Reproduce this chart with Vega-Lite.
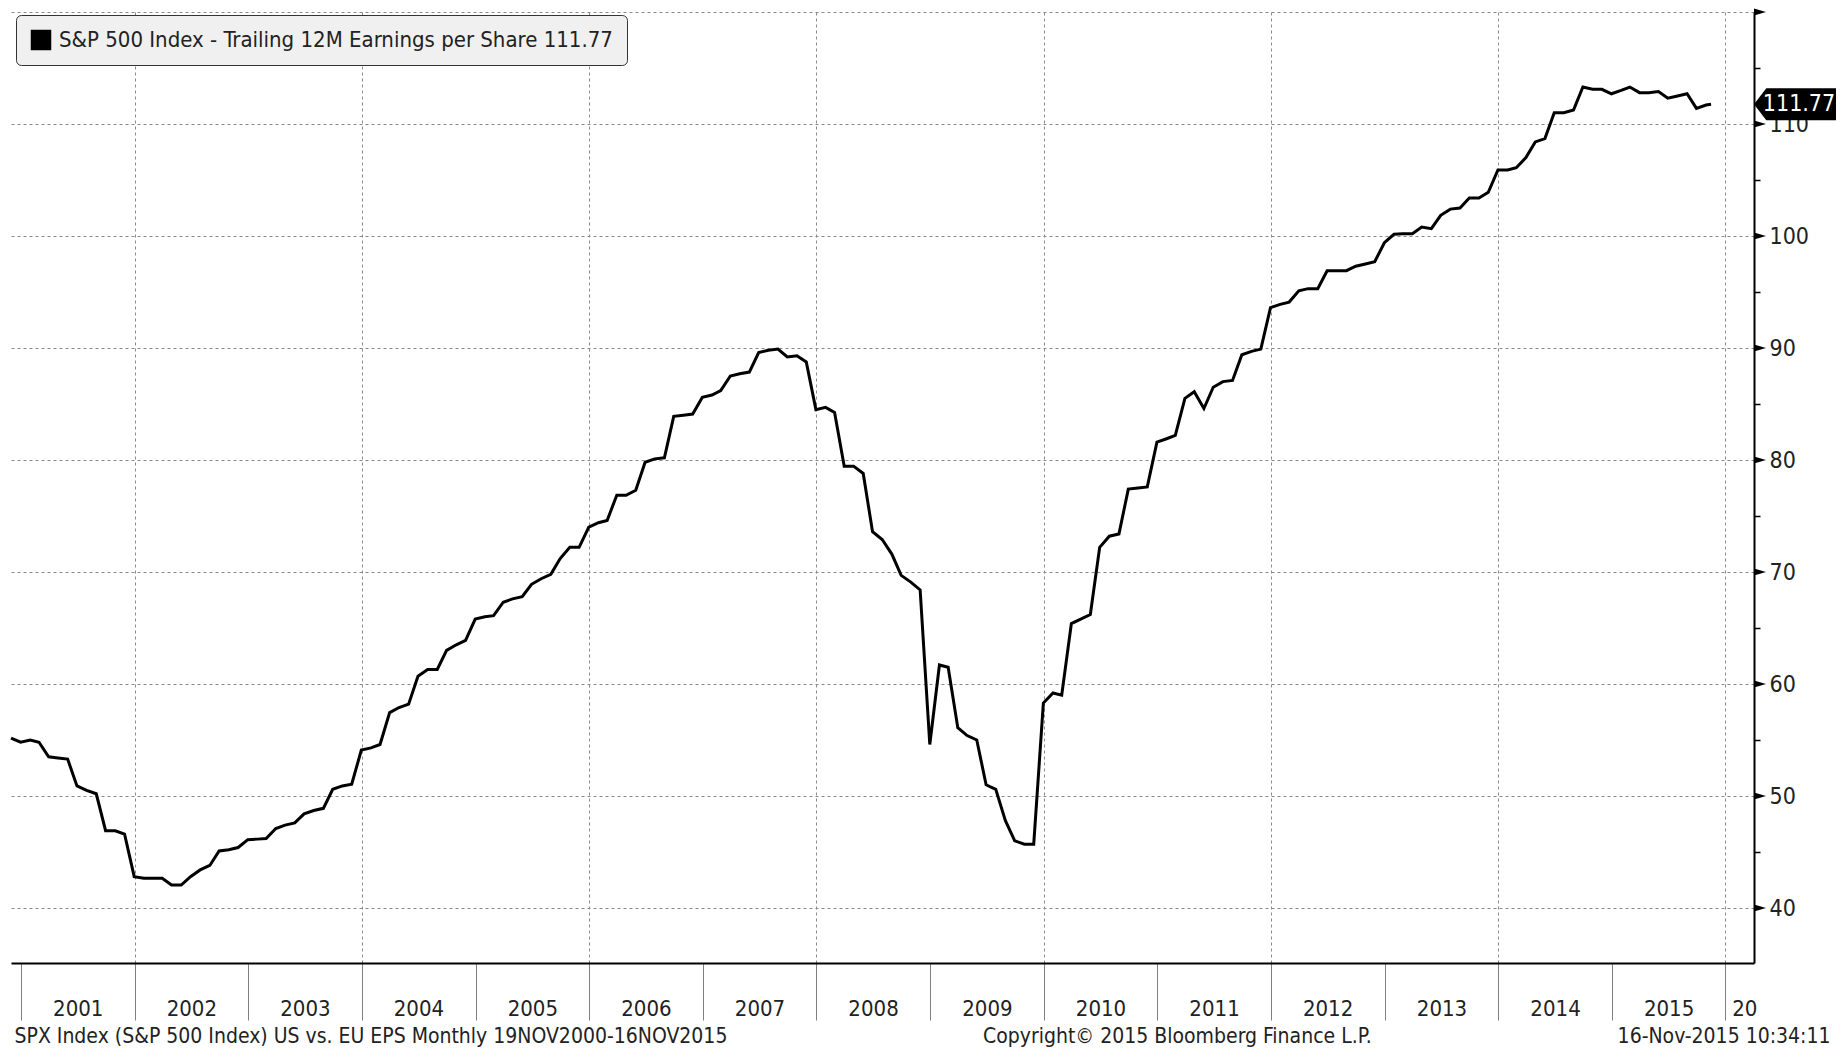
{
  "$schema": "https://vega.github.io/schema/vega-lite/v6.json",
  "width": 1743,
  "height": 951,
  "autosize": {"type": "none"},
  "padding": {"left": 11, "top": 12, "right": 89, "bottom": 87},
  "background": "white",
  "config": {
    "view": {"stroke": null},
    "font": "Liberation Sans Narrow, DejaVu Sans Condensed, sans-serif"
  },
  "title": {
    "text": "Copyright\u00a9 2015 Bloomberg Finance L.P.",
    "orient": "bottom",
    "anchor": "start",
    "frame": "group",
    "dx": 972,
    "dy": -20,
    "offset": 0,
    "fontSize": 21,
    "fontWeight": "normal",
    "color": "#222222",
    "font": "Liberation Sans Narrow, DejaVu Sans Condensed, sans-serif"
  },
  "datasets": {
    "eps": [
      {"d": "2000-11-30", "v": 55.17}, {"d": "2000-12-31", "v": 54.8},
      {"d": "2001-01-31", "v": 55.0}, {"d": "2001-02-28", "v": 54.8}, {"d": "2001-03-31", "v": 53.5}, {"d": "2001-04-30", "v": 53.4}, {"d": "2001-05-31", "v": 53.3}, {"d": "2001-06-30", "v": 50.9}, {"d": "2001-07-31", "v": 50.5}, {"d": "2001-08-31", "v": 50.2}, {"d": "2001-09-30", "v": 46.9}, {"d": "2001-10-31", "v": 46.9}, {"d": "2001-11-30", "v": 46.6}, {"d": "2001-12-31", "v": 42.8},
      {"d": "2002-01-31", "v": 42.65}, {"d": "2002-02-28", "v": 42.65}, {"d": "2002-03-31", "v": 42.65}, {"d": "2002-04-30", "v": 42.05}, {"d": "2002-05-31", "v": 42.05}, {"d": "2002-06-30", "v": 42.8}, {"d": "2002-07-31", "v": 43.4}, {"d": "2002-08-31", "v": 43.8}, {"d": "2002-09-30", "v": 45.1}, {"d": "2002-10-31", "v": 45.2}, {"d": "2002-11-30", "v": 45.4}, {"d": "2002-12-31", "v": 46.1},
      {"d": "2003-01-31", "v": 46.15}, {"d": "2003-02-28", "v": 46.2}, {"d": "2003-03-31", "v": 47.1}, {"d": "2003-04-30", "v": 47.4}, {"d": "2003-05-31", "v": 47.6}, {"d": "2003-06-30", "v": 48.4}, {"d": "2003-07-31", "v": 48.7}, {"d": "2003-08-31", "v": 48.9}, {"d": "2003-09-30", "v": 50.6}, {"d": "2003-10-31", "v": 50.9}, {"d": "2003-11-30", "v": 51.05}, {"d": "2003-12-31", "v": 54.1},
      {"d": "2004-01-31", "v": 54.3}, {"d": "2004-02-29", "v": 54.6}, {"d": "2004-03-31", "v": 57.45}, {"d": "2004-04-30", "v": 57.9}, {"d": "2004-05-31", "v": 58.2}, {"d": "2004-06-30", "v": 60.7}, {"d": "2004-07-31", "v": 61.3}, {"d": "2004-08-31", "v": 61.3}, {"d": "2004-09-30", "v": 63.0}, {"d": "2004-10-31", "v": 63.5}, {"d": "2004-11-30", "v": 63.9}, {"d": "2004-12-31", "v": 65.8},
      {"d": "2005-01-31", "v": 66.0}, {"d": "2005-02-28", "v": 66.1}, {"d": "2005-03-31", "v": 67.3}, {"d": "2005-04-30", "v": 67.6}, {"d": "2005-05-31", "v": 67.8}, {"d": "2005-06-30", "v": 68.9}, {"d": "2005-07-31", "v": 69.4}, {"d": "2005-08-31", "v": 69.8}, {"d": "2005-09-30", "v": 71.2}, {"d": "2005-10-31", "v": 72.2}, {"d": "2005-11-30", "v": 72.2}, {"d": "2005-12-31", "v": 74.0},
      {"d": "2006-01-31", "v": 74.4}, {"d": "2006-02-28", "v": 74.6}, {"d": "2006-03-31", "v": 76.85}, {"d": "2006-04-30", "v": 76.85}, {"d": "2006-05-31", "v": 77.3}, {"d": "2006-06-30", "v": 79.8}, {"d": "2006-07-31", "v": 80.1}, {"d": "2006-08-31", "v": 80.2}, {"d": "2006-09-30", "v": 83.9}, {"d": "2006-10-31", "v": 84.0}, {"d": "2006-11-30", "v": 84.1}, {"d": "2006-12-31", "v": 85.6},
      {"d": "2007-01-31", "v": 85.8}, {"d": "2007-02-28", "v": 86.2}, {"d": "2007-03-31", "v": 87.5}, {"d": "2007-04-30", "v": 87.7}, {"d": "2007-05-31", "v": 87.85}, {"d": "2007-06-30", "v": 89.6}, {"d": "2007-07-31", "v": 89.8}, {"d": "2007-08-31", "v": 89.9}, {"d": "2007-09-30", "v": 89.2}, {"d": "2007-10-31", "v": 89.3}, {"d": "2007-11-30", "v": 88.75}, {"d": "2007-12-31", "v": 84.5},
      {"d": "2008-01-31", "v": 84.7}, {"d": "2008-02-29", "v": 84.25}, {"d": "2008-03-31", "v": 79.45}, {"d": "2008-04-30", "v": 79.45}, {"d": "2008-05-31", "v": 78.8}, {"d": "2008-06-30", "v": 73.6}, {"d": "2008-07-31", "v": 72.9}, {"d": "2008-08-31", "v": 71.6}, {"d": "2008-09-30", "v": 69.7}, {"d": "2008-10-31", "v": 69.1}, {"d": "2008-11-30", "v": 68.4}, {"d": "2008-12-31", "v": 54.6},
      {"d": "2009-01-31", "v": 61.7}, {"d": "2009-02-28", "v": 61.5}, {"d": "2009-03-31", "v": 56.1}, {"d": "2009-04-30", "v": 55.4}, {"d": "2009-05-31", "v": 55.0}, {"d": "2009-06-30", "v": 51.0}, {"d": "2009-07-31", "v": 50.6}, {"d": "2009-08-31", "v": 47.8}, {"d": "2009-09-30", "v": 46.0}, {"d": "2009-10-31", "v": 45.7}, {"d": "2009-11-30", "v": 45.7}, {"d": "2009-12-31", "v": 58.3},
      {"d": "2010-01-31", "v": 59.2}, {"d": "2010-02-28", "v": 59.0}, {"d": "2010-03-31", "v": 65.4}, {"d": "2010-04-30", "v": 65.8}, {"d": "2010-05-31", "v": 66.2}, {"d": "2010-06-30", "v": 72.2}, {"d": "2010-07-31", "v": 73.2}, {"d": "2010-08-31", "v": 73.4}, {"d": "2010-09-30", "v": 77.4}, {"d": "2010-10-31", "v": 77.5}, {"d": "2010-11-30", "v": 77.6}, {"d": "2010-12-31", "v": 81.6},
      {"d": "2011-01-31", "v": 81.9}, {"d": "2011-02-28", "v": 82.2}, {"d": "2011-03-31", "v": 85.5}, {"d": "2011-04-30", "v": 86.1}, {"d": "2011-05-31", "v": 84.6}, {"d": "2011-06-30", "v": 86.5}, {"d": "2011-07-31", "v": 87.0}, {"d": "2011-08-31", "v": 87.1}, {"d": "2011-09-30", "v": 89.4}, {"d": "2011-10-31", "v": 89.7}, {"d": "2011-11-30", "v": 89.9}, {"d": "2011-12-31", "v": 93.6},
      {"d": "2012-01-31", "v": 93.9}, {"d": "2012-02-29", "v": 94.1}, {"d": "2012-03-31", "v": 95.1}, {"d": "2012-04-30", "v": 95.3}, {"d": "2012-05-31", "v": 95.3}, {"d": "2012-06-30", "v": 96.9}, {"d": "2012-07-31", "v": 96.9}, {"d": "2012-08-31", "v": 96.9}, {"d": "2012-09-30", "v": 97.3}, {"d": "2012-10-31", "v": 97.5}, {"d": "2012-11-30", "v": 97.7}, {"d": "2012-12-31", "v": 99.4},
      {"d": "2013-01-31", "v": 100.15}, {"d": "2013-02-28", "v": 100.2}, {"d": "2013-03-31", "v": 100.2}, {"d": "2013-04-30", "v": 100.8}, {"d": "2013-05-31", "v": 100.65}, {"d": "2013-06-30", "v": 101.85}, {"d": "2013-07-31", "v": 102.4}, {"d": "2013-08-31", "v": 102.5}, {"d": "2013-09-30", "v": 103.4}, {"d": "2013-10-31", "v": 103.4}, {"d": "2013-11-30", "v": 103.9}, {"d": "2013-12-31", "v": 105.9},
      {"d": "2014-01-31", "v": 105.9}, {"d": "2014-02-28", "v": 106.1}, {"d": "2014-03-31", "v": 107.0}, {"d": "2014-04-30", "v": 108.4}, {"d": "2014-05-31", "v": 108.7}, {"d": "2014-06-30", "v": 111.0}, {"d": "2014-07-31", "v": 111.0}, {"d": "2014-08-31", "v": 111.25}, {"d": "2014-09-30", "v": 113.3}, {"d": "2014-10-31", "v": 113.1}, {"d": "2014-11-30", "v": 113.1}, {"d": "2014-12-31", "v": 112.7},
      {"d": "2015-01-31", "v": 113.0}, {"d": "2015-02-28", "v": 113.3}, {"d": "2015-03-31", "v": 112.8}, {"d": "2015-04-30", "v": 112.8}, {"d": "2015-05-31", "v": 112.9}, {"d": "2015-06-30", "v": 112.3}, {"d": "2015-07-31", "v": 112.5}, {"d": "2015-08-31", "v": 112.7}, {"d": "2015-09-30", "v": 111.4}, {"d": "2015-10-31", "v": 111.7}, {"d": "2015-11-16", "v": 111.77}
    ],
    "marks": [{"m": 40}, {"m": 50}, {"m": 60}, {"m": 70}, {"m": 80}, {"m": 90}, {"m": 100}, {"m": 110}, {"m": 120}],
    "last": [{"v": 111.77, "label": "111.77"}]
  },
  "layer": [
    {
      "data": {"name": "eps"},
      "mark": {"type": "line", "color": "black", "strokeWidth": 3, "strokeJoin": "miter"},
      "encoding": {
        "x": {
          "field": "d",
          "type": "temporal",
          "scale": {
            "type": "utc",
            "domain": [
              {"year": 2000, "month": 11, "date": 30, "utc": true},
              {"year": 2016, "month": 4, "date": 2, "utc": true}
            ]
          },
          "axis": {
            "orient": "bottom",
            "values": [
              {"year": 2001, "month": 1, "date": 1, "utc": true},
              {"year": 2002, "month": 1, "date": 1, "utc": true},
              {"year": 2003, "month": 1, "date": 1, "utc": true},
              {"year": 2004, "month": 1, "date": 1, "utc": true},
              {"year": 2005, "month": 1, "date": 1, "utc": true},
              {"year": 2006, "month": 1, "date": 1, "utc": true},
              {"year": 2007, "month": 1, "date": 1, "utc": true},
              {"year": 2008, "month": 1, "date": 1, "utc": true},
              {"year": 2009, "month": 1, "date": 1, "utc": true},
              {"year": 2010, "month": 1, "date": 1, "utc": true},
              {"year": 2011, "month": 1, "date": 1, "utc": true},
              {"year": 2012, "month": 1, "date": 1, "utc": true},
              {"year": 2013, "month": 1, "date": 1, "utc": true},
              {"year": 2014, "month": 1, "date": 1, "utc": true},
              {"year": 2015, "month": 1, "date": 1, "utc": true},
              {"year": 2016, "month": 1, "date": 1, "utc": true}
            ],
            "labelExpr": "utcyear(datum.value) < 2016 ? utcFormat(datum.value, '%Y') : '20'",
            "labelOffset": {"condition": {"test": "utcyear(datum.value) === 2016", "value": 19}, "value": 56.8},
            "labelPadding": -22,
            "labelFontSize": 22,
            "labelColor": "#222222",
            "labelFlush": false,
            "labelOverlap": false,
            "labelBound": false,
            "tickSize": 57,
            "tickColor": "#808080",
            "tickWidth": 1,
            "domain": true,
            "domainColor": "black",
            "domainWidth": 2,
            "grid": true,
            "gridColor": "#8a8a8a",
            "gridDash": [3, 3],
            "gridWidth": 1,
            "gridOpacity": {"condition": {"test": "utcyear(datum.value) % 2 === 0", "value": 1}, "value": 0},
            "title": "SPX Index (S&P 500 Index) US vs. EU EPS  Monthly 19NOV2000-16NOV2015",
            "titleX": 3,
            "titleY": 73,
            "titleAlign": "left",
            "titleAnchor": null,
            "titleBaseline": "middle",
            "titleFontSize": 21,
            "titleFontWeight": "normal",
            "titleColor": "#222222"
          }
        },
        "y": {
          "field": "v",
          "type": "quantitative",
          "scale": {"domain": [35.09, 120], "nice": false, "zero": false},
          "axis": {
            "orient": "right",
            "values": [40, 45, 50, 55, 60, 65, 70, 75, 80, 85, 90, 95, 100, 105, 110, 115, 120],
            "labelExpr": "datum.value % 10 === 0 && datum.value < 120 ? datum.value : ''",
            "labelFontSize": 23,
            "labelColor": "#222222",
            "labelPadding": 9,
            "labelBaseline": "middle",
            "labelBound": false,
            "labelOverlap": false,
            "tickSize": 6,
            "tickColor": "black",
            "tickWidth": 1.5,
            "domain": true,
            "domainColor": "black",
            "domainWidth": 2,
            "grid": true,
            "gridColor": "#8a8a8a",
            "gridDash": [3, 3],
            "gridWidth": 1,
            "gridOpacity": {"condition": {"test": "datum.value % 10 === 0", "value": 1}, "value": 0},
            "title": "16-Nov-2015 10:34:11",
            "titleAngle": 0,
            "titleX": 76,
            "titleY": 1024,
            "titleAlign": "right",
            "titleAnchor": null,
            "titleBaseline": "middle",
            "titleFontSize": 21,
            "titleFontWeight": "normal",
            "titleColor": "#222222"
          }
        },
        "color": {
          "datum": "S&P 500 Index - Trailing 12M Earnings per Share 111.77",
          "type": "nominal",
          "scale": {"range": ["black"]},
          "legend": {
            "orient": "none",
            "legendX": 5,
            "legendY": 3,
            "title": null,
            "symbolType": "square",
            "symbolSize": 420,
            "symbolFillColor": "black",
            "symbolStrokeColor": "black",
            "symbolStrokeWidth": 0,
            "labelFontSize": 22,
            "labelColor": "#222222",
            "labelOffset": 7,
            "labelLimit": 800,
            "fillColor": "#f0f0f0",
            "strokeColor": "#333333",
            "cornerRadius": 5,
            "padding": 14
          }
        }
      }
    },
    {
      "data": {"name": "marks"},
      "mark": {"type": "point", "shape": "M -1 -0.6 L 1 0 L -1 0.6 Z", "filled": true, "color": "black", "opacity": 1, "size": 144, "xOffset": 6, "strokeWidth": 0},
      "encoding": {
        "x": {"value": "width"},
        "y": {"field": "m", "type": "quantitative"}
      }
    },
    {
      "data": {"name": "last"},
      "mark": {"type": "point", "shape": "M -1 0 L -0.7 -0.39 L 1 -0.39 L 1 0.39 L -0.7 0.39 Z", "filled": true, "color": "black", "opacity": 1, "size": 6724, "xOffset": 41, "strokeWidth": 0},
      "encoding": {
        "x": {"value": "width"},
        "y": {"field": "v", "type": "quantitative"}
      }
    },
    {
      "data": {"name": "last"},
      "mark": {"type": "text", "color": "white", "fontSize": 23, "align": "center", "baseline": "middle", "xOffset": 45, "font": "Liberation Sans Narrow, DejaVu Sans Condensed, sans-serif"},
      "encoding": {
        "x": {"value": "width"},
        "y": {"field": "v", "type": "quantitative"},
        "text": {"field": "label"}
      }
    }
  ]
}
